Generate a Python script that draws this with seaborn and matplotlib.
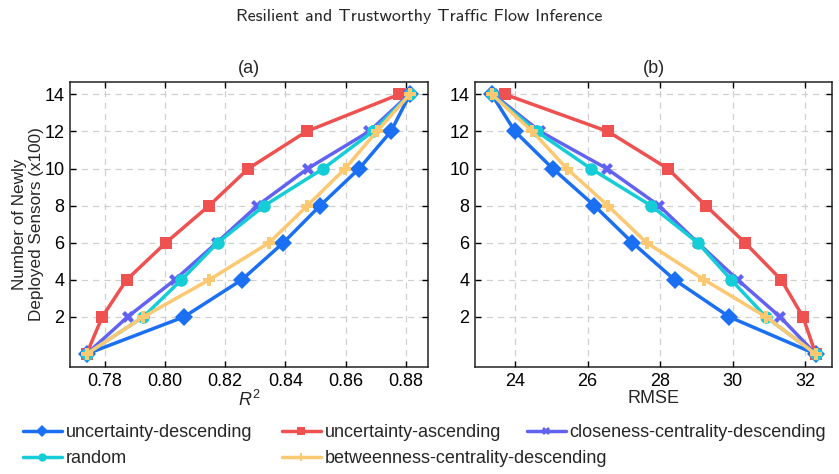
import numpy as np
import pandas as pd
import matplotlib
matplotlib.use("Agg")
import matplotlib.pyplot as plt
import seaborn as sns

# sensors deployed (x100)
sensors = [0, 2, 4, 6, 8, 10, 12, 14]

strategies = ["uncertainty-descending", "uncertainty-ascending",
              "closeness-centrality-descending", "random",
              "betweenness-centrality-descending"]

# R^2 per strategy
r2_unc_desc = [0.774, 0.8063, 0.8255, 0.8393, 0.8515, 0.8645, 0.875, 0.8813]
r2_unc_asc = [0.774, 0.7792, 0.7873, 0.8003, 0.8147, 0.8277, 0.847, 0.8778]
r2_closeness = [0.774, 0.7876, 0.8033, 0.8172, 0.8307, 0.8474, 0.8678, 0.8811]
r2_random = [0.774, 0.7928, 0.8055, 0.8175, 0.833, 0.8526, 0.869, 0.8813]
r2_betweenness = [0.774, 0.7928, 0.8147, 0.8346, 0.8473, 0.8598, 0.8703, 0.8813]

# RMSE per strategy
rmse_unc_desc = [32.29, 29.91, 28.40, 27.24, 26.19, 25.04, 24.00, 23.36]
rmse_unc_asc = [32.29, 31.94, 31.34, 30.34, 29.26, 28.21, 26.56, 23.72]
rmse_closeness = [32.29, 31.31, 30.14, 29.04, 27.97, 26.53, 24.69, 23.40]
rmse_random = [32.29, 30.92, 29.96, 29.04, 27.75, 26.09, 24.60, 23.36]
rmse_betweenness = [32.29, 30.92, 29.22, 27.63, 26.56, 25.43, 24.48, 23.36]

r2_all = [r2_unc_desc, r2_unc_asc, r2_closeness, r2_random, r2_betweenness]
rmse_all = [rmse_unc_desc, rmse_unc_asc, rmse_closeness, rmse_random, rmse_betweenness]

colors = ["#1a6ff2", "#ef5050", "#6262f2", "#14cdd6", "#fdc872"]
markers = ["D", "s", "X", "o", "P"]

rows = []
for name, r2s, rms in zip(strategies, r2_all, rmse_all):
    for s, a, b in zip(sensors, r2s, rms):
        rows.append({"strategy": name, "sensors": s, "r2": a, "rmse": b})
df = pd.DataFrame(rows)

sns.set_theme(style="ticks")
plt.rcParams["font.family"] = ["Liberation Sans", "DejaVu Sans"]
plt.rcParams["mathtext.fontset"] = "custom"
plt.rcParams["mathtext.it"] = "Liberation Sans:italic"
plt.rcParams["mathtext.rm"] = "Liberation Sans"
plt.rcParams["xtick.direction"] = "in"
plt.rcParams["ytick.direction"] = "in"
plt.rcParams["xtick.top"] = True
plt.rcParams["ytick.right"] = True

FS = 13

fig = plt.figure(figsize=(8.39, 4.74), dpi=100)
ax1 = fig.add_axes([0.0834, 0.2257, 0.4267, 0.6019])
ax2 = fig.add_axes([0.5662, 0.2257, 0.4255, 0.6019])

palette = dict(zip(strategies, colors))
mk = dict(zip(strategies, markers))

for ax, col in [(ax1, "r2"), (ax2, "rmse")]:
    sns.lineplot(data=df, x=col, y="sensors", hue="strategy", style="strategy",
                 hue_order=strategies, style_order=strategies, palette=palette,
                 markers=mk, dashes=False, sort=False, estimator=None,
                 lw=2.5, markersize=9, markeredgewidth=0, ax=ax, legend=False)
    ax.set_ylim(-0.7, 14.68)
    ax.set_yticks([2, 4, 6, 8, 10, 12, 14])
    ax.grid(True, ls=(0, (5, 4)), color="#d0d0d0", lw=0.9)
    ax.tick_params(labelsize=FS, length=4, width=1, colors="black", pad=4)
    for sp in ax.spines.values():
        sp.set_color("#222222")
        sp.set_linewidth(1.1)

ax1.set_xlim(0.7685, 0.8873)
ax1.set_xticks([0.78, 0.80, 0.82, 0.84, 0.86, 0.88])
ax1.set_xlabel("$R^2$", fontsize=FS, labelpad=0)
ax1.set_ylabel("Number of Newly\nDeployed Sensors (x100)", fontsize=12.3, labelpad=0)
ax1.set_title("(a)", fontsize=FS)

ax2.set_xlim(22.9, 32.74)
ax2.set_xticks([24, 26, 28, 30, 32])
ax2.set_xlabel("RMSE", fontsize=FS, labelpad=0)
ax2.set_ylabel("")
ax2.set_title("(b)", fontsize=FS)

# legend: three columns placed by hand so row 2 can overhang like the original
handles = []
for name, c, m in zip(strategies, colors, markers):
    h, = ax1.plot([], [], color=c, marker=m, lw=2.5, markersize=6, mew=0, label=name)
    handles.append(h)
columns = [([0, 3], 23), ([1, 4], 282), ([2], 527)]
for idx, xpx in columns:
    lg = fig.legend([handles[i] for i in idx], [strategies[i] for i in idx],
                    loc="upper left", bbox_to_anchor=(xpx / 839, 1 - 424 / 474),
                    frameon=False, fontsize=FS, handlelength=2.15, handletextpad=0.2,
                    labelspacing=0.5, borderpad=0, borderaxespad=0)

fig.suptitle("Resilient and Trustworthy Traffic Flow Inference", y=0.982,
             fontsize=13, family=["cmss10", "DejaVu Sans"])

fig.savefig("out.png", dpi=100)
